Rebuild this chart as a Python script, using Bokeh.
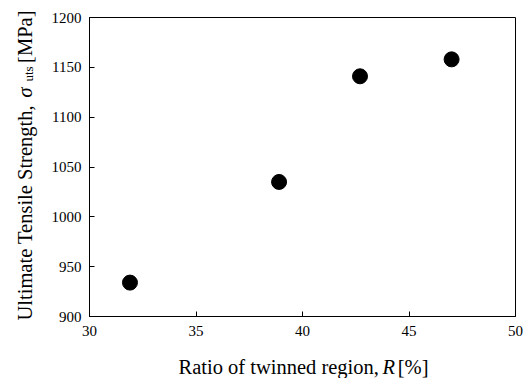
import math
from bokeh.plotting import figure
from bokeh.layouts import row, column
from bokeh.models import FixedTicker, Label, Range1d
from bokeh.embed import file_html
from bokeh.resources import INLINE

ratio = [31.9, 38.9, 42.7, 47.0]
uts = [934, 1035, 1141, 1158]
x_ticks = [30, 35, 40, 45, 50]
y_ticks = [900, 950, 1000, 1050, 1100, 1150, 1200]

FONT = "Liberation Serif"
FS = "20.5px"

W, H = 525, 378
LEFT_W = 45
BOTTOM_H = 30

# main plot
p = figure(width=W - LEFT_W, height=H - BOTTOM_H, output_backend="svg", toolbar_location=None,
           x_range=Range1d(30, 50), y_range=Range1d(900, 1200),
           min_border_left=89 - LEFT_W, min_border_right=10, min_border_top=17,
           min_border_bottom=(H - BOTTOM_H) - 316, frame_align=False)
p.background_fill_color = "white"
p.border_fill_color = "white"
p.outline_line_color = "black"
p.outline_line_width = 1
p.grid.visible = False

for ax, ticks in ((p.xaxis[0], x_ticks), (p.yaxis[0], y_ticks)):
    ax.ticker = FixedTicker(ticks=ticks)
    ax.major_tick_in = 5
    ax.major_tick_out = 0
    ax.minor_tick_line_color = None
    ax.axis_line_color = "black"
    ax.major_tick_line_color = "black"
    ax.major_label_text_font = FONT
    ax.major_label_text_font_size = "15px"
    ax.major_label_text_color = "black"
p.xaxis.major_label_standoff = 9
p.yaxis.major_label_standoff = 8

p.scatter(ratio, uts, size=15, color="black")


def strip(width, height):
    f = figure(width=width, height=height, output_backend="svg", toolbar_location=None,
               x_axis_location=None, y_axis_location=None, min_border=0,
               x_range=Range1d(0, width), y_range=Range1d(0, height), frame_align=False)
    f.grid.visible = False
    f.outline_line_color = None
    f.background_fill_color = "white"
    f.border_fill_color = "white"
    return f


def lab(fig, x, y, text, size=FS, style="normal", align="left", angle=0.0):
    fig.add_layout(Label(x=x, y=y, x_units="screen", y_units="screen", angle=angle,
                         text=text, text_font=FONT, text_font_size=size,
                         text_font_style=style, text_color="black",
                         text_align=align, text_baseline="alphabetic"))


# x-axis title strip (coordinates: px from strip's left / bottom)
bx = strip(W - LEFT_W, BOTTOM_H)
base = H - 370.7 + 4.5
lab(bx, 178 - LEFT_W, base, "Ratio of twinned region,")
lab(bx, 382 - LEFT_W, base, "R", style="italic")
lab(bx, 428 - LEFT_W, base, "[%]", align="right")

# y-axis title strip (rotated)
ly = strip(LEFT_W, H)
a = math.pi / 2
bl = 24.5
lab(ly, bl, H - 320, "Ultimate Tensile Strength, ", angle=a)
lab(ly, bl, H - 97, "σ", style="italic", angle=a)
lab(ly, bl + 3, H - 81, "uts", size="13px", angle=a)
lab(ly, bl, H - 10, "[MPa]", align="right", angle=a)

layout = row(ly, column(p, bx))
open("out.html", "w").write(file_html(layout, INLINE))
